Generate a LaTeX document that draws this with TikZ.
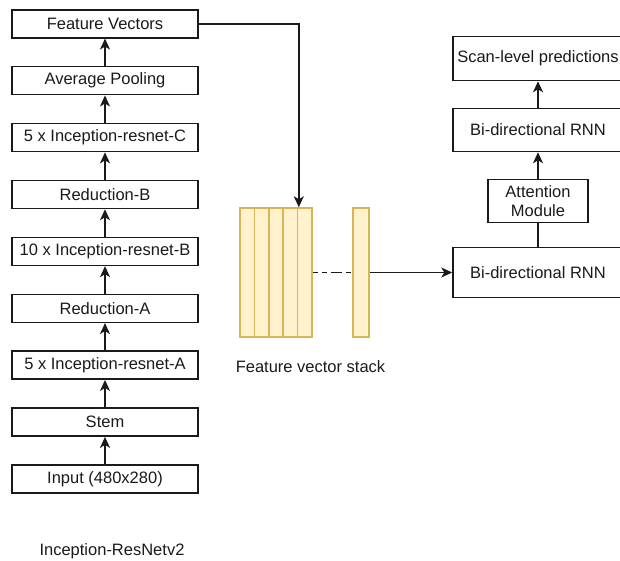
\documentclass[tikz,border=0pt]{standalone}
\usepackage{fontspec}
\setmainfont{Liberation Sans}
\usepackage{tikz}
\usetikzlibrary{arrows.meta, positioning, calc}
\usepackage{xcolor}
\definecolor{vecfill}{HTML}{FFF2CC}
\definecolor{vecdraw}{HTML}{D6B656}
\definecolor{ink}{HTML}{1A1A1A}

\begin{document}
\begin{tikzpicture}[
    x=1pt, y=-1pt,
    node distance=27.4pt,
    font=\fontsize{16.5}{19.5}\selectfont,
    layer/.style={
        rectangle, draw=ink, line width=1.5pt,
        minimum width=186pt, minimum height=28pt,
        inner sep=1pt, align=center, text=ink
    },
    head/.style={
        layer, minimum width=170pt
    },
    vec/.style={
        rectangle, draw=vecdraw, fill=vecfill, line width=1.5pt,
        minimum width=14.4pt, minimum height=129pt, inner sep=0pt
    },
    arr/.style={-{Stealth[length=11pt, width=10pt, inset=3pt]}, line width=1.5pt, draw=ink},
    link/.style={line width=1.5pt, draw=ink},
    dashdot/.style={link, dash pattern=on 5pt off 4pt on 5pt off 4pt on 11pt off 4pt},
]

\useasboundingbox (0,0) rectangle (620,560);

% ── Inception-ResNetv2 backbone ──────
\node[layer] (input) at (105,479) {Input (480x280)};
\node[layer, above=of input] (stem) {Stem};
\node[layer, above=of stem] (incA) {5 x Inception-resnet-A};
\node[layer, above=of incA] (redA) {Reduction-A};
\node[layer, above=of redA] (incB) {10 x Inception-resnet-B};
\node[layer, above=of incB] (redB) {Reduction-B};
\node[layer, above=of redB] (incC) {5 x Inception-resnet-C};
\node[layer, above=of incC] (pool) {Average Pooling};
\node[layer, above=of pool] (fv) {Feature Vectors};
\node[text=ink] (backbone) at (112,551) {Inception-ResNetv2};

% ── Feature vector stack ──────
\foreach \i in {1,...,5}
    \node[vec] (s\i) at ({240+14.4*(\i-0.5)},272.5) {};
\node[vec, minimum width=16pt] (last) at (361,272.5) {};
\node[text=ink] (stacklabel) at (310.5,367) {Feature vector stack};
\coordinate (drop) at ([xshift=-6pt]s5.north);

% ── Sequence head ──────
\node[head, minimum height=50pt] (rnnA) at (538,272.5) {Bi-directional RNN};
\node[layer, minimum width=100pt, minimum height=43pt, above=23.5pt of rnnA] (attn) {Attention\\Module};
\node[head, minimum height=43pt, above=26.5pt of attn] (rnnB) {Bi-directional RNN};
\node[head, minimum height=44pt, above=26.5pt of rnnB] (scan) {Scan-level predictions};

% ── Connectors ──────
\draw[arr] (input) -- (stem);
\draw[arr] (stem) -- (incA);
\draw[arr] (incA) -- (redA);
\draw[arr] (redA) -- (incB);
\draw[arr] (incB) -- (redB);
\draw[arr] (redB) -- (incC);
\draw[arr] (incC) -- (pool);
\draw[arr] (pool) -- (fv);
\draw[arr] (fv.east) -| (drop);
\draw[dashdot] (s5) -- (last);
\draw[arr] (last) -- (rnnA);
\draw[link] (rnnA) -- (attn);
\draw[arr] (attn) -- (rnnB);
\draw[arr] (rnnB) -- (scan);

\end{tikzpicture}
\end{document}
